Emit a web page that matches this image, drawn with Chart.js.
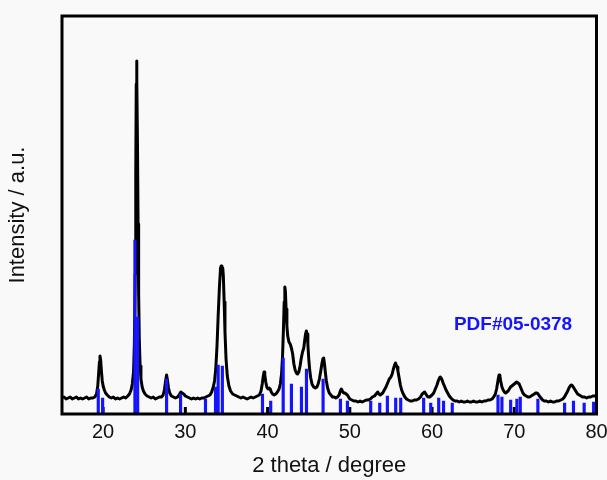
<!DOCTYPE html>
<html>
<head>
<meta charset="utf-8">
<script src="https://cdn.jsdelivr.net/npm/chart.js@4/dist/chart.umd.min.js"></script>
<style>
  html, body { margin: 0; padding: 0; background: #f9f9f9; }
  canvas { display: block; }
</style>
</head>
<body>
<canvas id="xrd" width="607" height="480"></canvas>
<script>
// measured pattern (2 theta / intensity, a.u.)
const twoTheta = [
  15.0, 15.25, 15.5, 15.75, 16.0, 16.25, 16.5, 16.75, 17.0, 17.25, 17.5, 17.75, 18.0, 18.25, 18.5, 18.75,
  19.0, 19.2, 19.35, 19.45, 19.55, 19.62, 19.7, 19.8, 19.9, 20.0, 20.15, 20.3, 20.5, 20.75, 21.0, 21.25,
  21.5, 21.75, 22.0, 22.25, 22.5, 22.75, 23.0, 23.2, 23.4, 23.55, 23.7, 23.8, 23.9, 23.97, 24.03, 24.07,
  24.12, 24.18, 24.25, 24.32, 24.4, 24.5, 24.6, 24.75, 24.9, 25.1, 25.35, 25.6, 25.85, 26.1, 26.35, 26.6,
  26.85, 27.1, 27.3, 27.45, 27.6, 27.72, 27.82, 27.95, 28.1, 28.3, 28.55, 28.8, 29.05, 29.25, 29.45, 29.6,
  29.8, 30.0, 30.25, 30.5, 30.75, 31.0, 31.25, 31.5, 31.75, 32.0, 32.25, 32.5, 32.75, 33.0, 33.2, 33.4,
  33.55, 33.7, 33.85, 34.0, 34.15, 34.28, 34.36, 34.45, 34.55, 34.62, 34.72, 34.82, 34.95, 35.1, 35.3, 35.5,
  35.75, 36.0, 36.25, 36.5, 36.75, 37.0, 37.25, 37.5, 37.75, 38.0, 38.25, 38.5, 38.75, 39.0, 39.2, 39.35,
  39.48, 39.57, 39.66, 39.78, 39.9, 40.05, 40.2, 40.32, 40.45, 40.6, 40.8, 41.0, 41.2, 41.4, 41.55, 41.7,
  41.82, 41.93, 42.02, 42.1, 42.17, 42.25, 42.35, 42.45, 42.6, 42.75, 42.9, 43.05, 43.2, 43.35, 43.5, 43.65,
  43.8, 43.95, 44.1, 44.25, 44.4, 44.52, 44.62, 44.72, 44.8, 44.9, 45.0, 45.12, 45.25, 45.4, 45.6, 45.8,
  46.0, 46.15, 46.3, 46.45, 46.6, 46.72, 46.82, 46.92, 47.02, 47.15, 47.3, 47.5, 47.7, 47.9, 48.1, 48.3,
  48.5, 48.7, 48.85, 48.97, 49.1, 49.25, 49.4, 49.55, 49.7, 49.85, 50.0, 50.25, 50.5, 50.75, 51.0, 51.25,
  51.5, 51.75, 52.0, 52.25, 52.5, 52.75, 53.0, 53.2, 53.4, 53.55, 53.7, 53.85, 54.0, 54.2, 54.4, 54.6,
  54.8, 55.0, 55.15, 55.3, 55.45, 55.55, 55.65, 55.75, 55.85, 56.0, 56.15, 56.3, 56.5, 56.7, 56.9, 57.1,
  57.35, 57.6, 57.85, 58.1, 58.35, 58.6, 58.8, 58.95, 59.1, 59.25, 59.4, 59.55, 59.7, 59.85, 60.0, 60.2,
  60.4, 60.6, 60.75, 60.9, 61.0, 61.1, 61.22, 61.35, 61.5, 61.7, 61.9, 62.1, 62.3, 62.55, 62.8, 63.05,
  63.3, 63.55, 63.8, 64.05, 64.3, 64.55, 64.8, 65.05, 65.3, 65.55, 65.8, 66.05, 66.3, 66.55, 66.8, 67.05,
  67.3, 67.5, 67.7, 67.85, 67.97, 68.07, 68.15, 68.25, 68.35, 68.5, 68.65, 68.8, 68.95, 69.1, 69.25, 69.4,
  69.55, 69.7, 69.85, 70.0, 70.15, 70.3, 70.45, 70.6, 70.75, 70.9, 71.05, 71.25, 71.45, 71.65, 71.85, 72.05,
  72.25, 72.45, 72.6, 72.75, 72.9, 73.05, 73.25, 73.45, 73.65, 73.9, 74.15, 74.4, 74.65, 74.9, 75.15, 75.4,
  75.65, 75.9, 76.1, 76.3, 76.5, 76.65, 76.8, 76.95, 77.1, 77.25, 77.4, 77.55, 77.7, 77.9, 78.1, 78.3,
  78.55, 78.8, 79.05, 79.3, 79.55, 79.8, 80.0
];
const intensity = [
  16, 17, 15, 16, 17, 15, 16, 17, 15, 16, 15, 16, 17, 15, 16, 16,
  17, 20, 28, 40, 52, 58, 54, 42, 33, 28, 24, 21, 19, 17, 16, 17,
  15, 16, 15, 16, 17, 16, 18, 20, 24, 30, 42, 70, 140, 240, 330, 353,
  335, 270, 190, 120, 75, 48, 35, 27, 23, 20, 18, 17, 16, 17, 15, 16,
  17, 17, 19, 24, 33, 39, 34, 26, 21, 18, 17, 16, 17, 19, 22, 21,
  20, 18, 17, 16, 15, 16, 15, 16, 15, 16, 16, 17, 18, 19, 22, 27,
  33, 45, 68, 100, 128, 146, 148, 140, 146, 138, 112, 82, 55, 38, 28, 23,
  20, 19, 18, 17, 16, 17, 16, 15, 16, 17, 16, 17, 18, 19, 23, 30,
  38, 42, 39, 32, 27, 25, 26, 25, 22, 20, 19, 20, 22, 25, 30, 40,
  58, 85, 112, 127, 122, 105, 88, 78, 72, 70, 66, 60, 50, 44, 41, 40,
  42, 48, 56, 62, 66, 74, 80, 83, 80, 70, 56, 44, 36, 30, 27, 26,
  27, 30, 35, 42, 50, 55, 56, 50, 42, 33, 26, 21, 19, 17, 17, 16,
  17, 19, 23, 25, 23, 21, 21, 20, 19, 17, 15, 14, 13, 13, 12, 13,
  12, 13, 14, 14, 15, 17, 18, 20, 22, 20, 19, 20, 21, 24, 27, 31,
  35, 37, 40, 45, 49, 51, 49, 47, 43, 36, 29, 24, 20, 17, 15, 14,
  13, 13, 14, 14, 15, 17, 20, 21, 22, 20, 18, 17, 17, 18, 19, 21,
  25, 29, 33, 36, 37, 36, 34, 31, 28, 24, 21, 18, 16, 14, 13, 13,
  12, 13, 12, 12, 13, 12, 12, 13, 12, 12, 13, 12, 13, 13, 14, 14,
  15, 17, 20, 25, 31, 36, 39, 38, 33, 27, 24, 22, 21, 22, 23, 25,
  27, 28, 29, 30, 31, 32, 31, 30, 27, 24, 21, 19, 18, 17, 17, 18,
  19, 20, 21, 21, 20, 18, 16, 14, 13, 13, 12, 13, 12, 12, 13, 13,
  14, 15, 17, 20, 23, 26, 28, 29, 28, 26, 24, 22, 20, 19, 18, 17,
  17, 16, 17, 17, 18, 18, 19
];

// reference lines, PDF#05-0378
const stickPos = [
  19.41, 19.94, 23.87, 24.2, 27.72, 29.42, 32.45, 33.67, 33.99, 34.5,
  39.38, 40.38, 41.9, 42.9, 44.12, 44.73, 46.75, 48.86, 49.71, 52.54,
  53.64, 54.57, 55.58, 56.19, 58.98, 59.84, 60.81, 61.4, 62.46, 68.02,
  68.5, 69.56, 70.32, 70.73, 72.87, 76.12, 77.2, 78.5, 79.65
];
const stickInt = [
  25, 16, 174, 97, 35, 20, 15, 27, 49, 48,
  20, 13, 56, 30, 27, 45, 35, 15, 13, 13,
  11, 18, 16, 16, 16, 11, 16, 13, 11, 19,
  17, 14, 15, 17, 15, 11, 13, 11, 12
];

const xTickValues = [20, 30, 40, 50, 60, 70, 80];
const refLabel = "PDF#05-0378";

const FONT = 'Arial, "Liberation Sans", sans-serif';

const framePlugin = {
  id: "frame",
  beforeDatasetsDraw(chart) {
    // inward tick marks on the bottom axis
    const { ctx, chartArea, scales } = chart;
    ctx.save();
    ctx.fillStyle = "#000";
    xTickValues.forEach((v) => {
      const px = scales.x.getPixelForValue(v);
      ctx.fillRect(px - 1.5, chartArea.bottom - 7, 3, 7);
    });
    ctx.restore();
  },
  afterDraw(chart) {
    const { ctx, chartArea, scales } = chart;
    ctx.save();
    ctx.strokeStyle = "#000";
    ctx.lineWidth = 3;
    ctx.strokeRect(chartArea.left, chartArea.top,
      chartArea.right - chartArea.left, chartArea.bottom - chartArea.top);
    ctx.fillStyle = "rgb(20,20,255)";
    ctx.font = "bold 19px " + FONT;
    ctx.textAlign = "center";
    ctx.textBaseline = "middle";
    ctx.fillText(refLabel, scales.x.getPixelForValue(69.85), scales.y.getPixelForValue(89));
    ctx.restore();
  }
};

const config = {
  type: "line",
  data: {
    datasets: [
      {
        type: "bar",
        label: "PDF#05-0378",
        data: stickPos.map((x, i) => ({ x: x, y: stickInt[i] })),
        backgroundColor: "rgb(20,20,255)",
        borderWidth: 0,
        barThickness: 2.5,
        order: 0
      },
      {
        type: "line",
        label: "sample",
        data: twoTheta.map((x, i) => ({ x: x, y: intensity[i] })),
        borderColor: "#000",
        borderWidth: 3,
        borderJoinStyle: "round",
        pointRadius: 0,
        tension: 0,
        fill: false,
        order: 1
      }
    ]
  },
  options: {
    responsive: false,
    animation: false,
    layout: { padding: { top: 16, right: 10.5, left: 0, bottom: 0 } },
    scales: {
      x: {
        type: "linear",
        min: 15,
        max: 80,
        offset: false,
        grid: { display: false, drawTicks: false, offset: false },
        border: { display: false },
        afterBuildTicks: (scale) => {
          scale.ticks = xTickValues.map((v) => ({ value: v }));
        },
        afterFit: (scale) => {
          scale.height = 66;
          scale.paddingLeft = 0;
          scale.paddingRight = 0;
        },
        ticks: {
          color: "#111",
          padding: 6,
          maxRotation: 0,
          font: { family: FONT, size: 20 }
        },
        title: {
          display: true,
          text: "2 theta / degree",
          color: "#111",
          padding: { top: 0, bottom: 1 },
          font: { family: FONT, size: 22 }
        }
      },
      y: {
        min: 0,
        max: 398,
        grid: { display: false, drawTicks: false },
        border: { display: false },
        ticks: { display: false },
        afterFit: (scale) => {
          scale.width = 62;
          scale.paddingTop = 0;
          scale.paddingBottom = 0;
        },
        title: {
          display: true,
          text: "Intensity / a.u.",
          color: "#111",
          padding: { top: 5, bottom: 0 },
          font: { family: FONT, size: 22 }
        }
      }
    },
    plugins: {
      legend: { display: false },
      tooltip: { enabled: false }
    }
  },
  plugins: [framePlugin]
};

const ctx = document.getElementById("xrd").getContext("2d");
new Chart(ctx, config);
</script>
</body>
</html>
